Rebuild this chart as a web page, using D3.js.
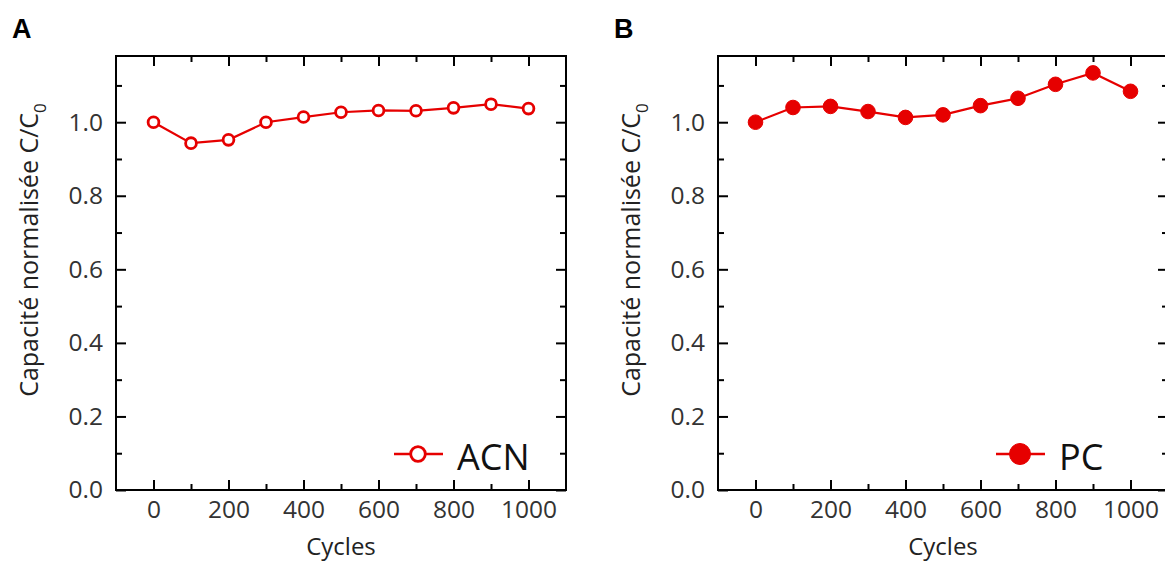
<!DOCTYPE html>
<html><head><meta charset="utf-8">
<script src="https://cdn.jsdelivr.net/npm/d3@7"></script>
<style>body{margin:0;background:#fff}svg{display:block}</style>
</head><body>
<svg id="c" width="1165" height="563"></svg>
<script>
const cycles = [0,100,200,300,400,500,600,700,800,900,1000];
const acnValues = [1.000,0.943,0.952,1.000,1.014,1.027,1.032,1.031,1.039,1.049,1.037];
const pcValues  = [1.000,1.040,1.043,1.029,1.013,1.020,1.045,1.065,1.103,1.134,1.084];
const xTickLabels = [0,200,400,600,800,1000];
const yTickLabels = [0.0,0.2,0.4,0.6,0.8,1.0];
const panelLabels = ["A","B"];
const seriesNames = ["ACN","PC"];

const svg = d3.select("#c");
const red = "#e60000";
const font = "'Open Sans', sans-serif";

function panel(ox, label, name, values, filled){
  const L = ox, R = ox + 450, T = 56, B = 490;
  const x = d3.scaleLinear().domain([-100,1100]).range([L,R]);
  const y = d3.scaleLinear().domain([0,1.18]).range([B,T]);
  const g = svg.append("g");
  g.append("text").attr("x", ox-104).attr("y", 38).text(label)
    .attr("font-family","Arial, 'Liberation Sans', sans-serif").attr("font-weight","bold").attr("font-size",27).attr("fill","#000");
  const majX = d3.range(0,1001,200), minX = d3.range(100,1001,200);
  const majY = d3.range(0,1.01,0.2), minY = d3.range(0.1,1.11,0.2);
  const bottom = g.append("g").attr("transform",`translate(0,${B})`)
    .call(d3.axisBottom(x).tickValues(xTickLabels).tickSize(-10).tickSizeOuter(0).tickPadding(10).tickFormat(d3.format("d")));
  bottom.append("g").call(d3.axisBottom(x).tickValues(minX).tickSize(-6).tickSizeOuter(0).tickFormat(""));
  const top = g.append("g").attr("transform",`translate(0,${T})`)
    .call(d3.axisTop(x).tickValues(majX).tickSize(-10).tickSizeOuter(0).tickFormat(""));
  top.append("g").call(d3.axisTop(x).tickValues(minX).tickSize(-6).tickSizeOuter(0).tickFormat(""));
  const left = g.append("g").attr("transform",`translate(${L},0)`)
    .call(d3.axisLeft(y).tickValues(yTickLabels).tickSize(-10).tickSizeOuter(0).tickPadding(13).tickFormat(d3.format(".1f")));
  left.append("g").call(d3.axisLeft(y).tickValues(minY).tickSize(-6).tickSizeOuter(0).tickFormat(""));
  const right = g.append("g").attr("transform",`translate(${R},0)`)
    .call(d3.axisRight(y).tickValues(majY).tickSize(-10).tickSizeOuter(0).tickFormat(""));
  right.append("g").call(d3.axisRight(y).tickValues(minY).tickSize(-6).tickSizeOuter(0).tickFormat(""));
  g.selectAll(".domain").remove();
  g.selectAll(".tick line").attr("stroke","#000").attr("stroke-width",2);
  g.selectAll(".tick text").attr("font-family",font).attr("font-size",24.5).attr("fill","#333");
  bottom.selectAll(".tick text").attr("dy",null).attr("y",null).attr("transform","translate(0,28)");
  g.append("rect").attr("x",L).attr("y",T).attr("width",R-L).attr("height",B-T)
    .attr("fill","none").attr("stroke","#000").attr("stroke-width",2);
  g.append("text").attr("x",(L+R)/2).attr("y",555).attr("text-anchor","middle")
    .attr("font-family",font).attr("font-size",24).attr("fill","#222").text("Cycles");
  const yt = g.append("text").attr("transform",`translate(${ox-78},${250}) rotate(-90)`).attr("text-anchor","middle")
    .attr("font-family",font).attr("font-size",25).attr("fill","#222");
  yt.append("tspan").text("Capacité normalisée C/C");
  yt.append("tspan").attr("font-size",17).attr("dy",8).text("0");
  const line = d3.line().x((d,i)=>x(cycles[i])).y(d=>y(d));
  g.append("path").datum(values).attr("d",line).attr("fill","none").attr("stroke",red).attr("stroke-width",2.2);
  g.selectAll("circle.pt").data(values).join("circle").attr("class","pt")
    .attr("cx",(d,i)=>x(cycles[i])).attr("cy",d=>y(d))
    .attr("r", filled ? 7.3 : 5.4)
    .attr("fill", filled ? red : "#fff").attr("stroke",red).attr("stroke-width", filled ? 1 : 2.8);
  const lx = ox + 278, ly = 454;
  g.append("line").attr("x1",lx).attr("x2",lx+49).attr("y1",ly).attr("y2",ly).attr("stroke",red).attr("stroke-width",2.4);
  g.append("circle").attr("cx",lx+24).attr("cy",ly).attr("r",filled?10.5:7.3)
    .attr("fill", filled ? red : "#fff").attr("stroke",red).attr("stroke-width", filled?1:2.8);
  g.append("text").attr("x",lx+63).attr("y",ly+16).attr("font-family",font).attr("font-size",36).attr("fill","#111").text(name);
}
panel(116, panelLabels[0], seriesNames[0], acnValues, false);
panel(718, panelLabels[1], seriesNames[1], pcValues, true);
</script>
</body></html>
